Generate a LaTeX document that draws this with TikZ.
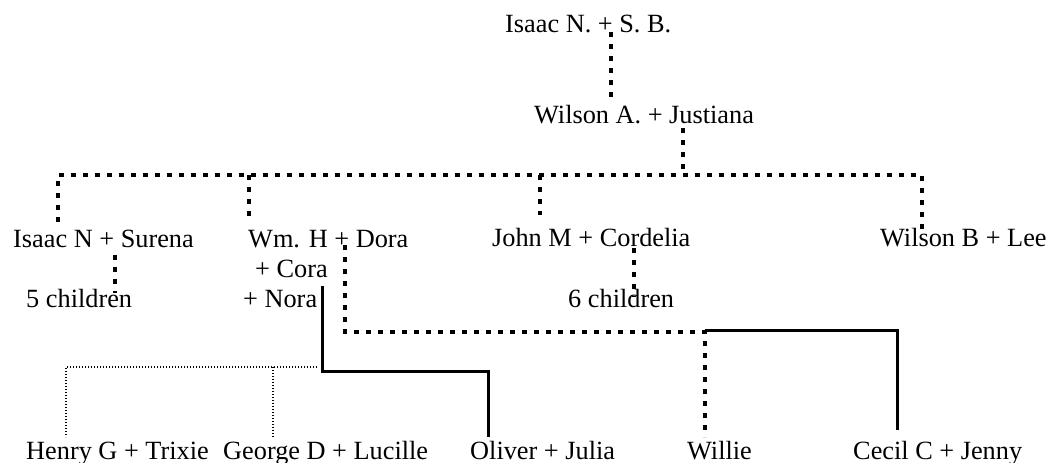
\documentclass[tikz,border=0pt]{standalone}
\usepackage{fontspec}
\setmainfont{Liberation Serif}
\begin{document}
\begin{tikzpicture}[x=1pt,y=-1pt,
        kin/.style={line width=4.6pt, dash pattern=on 4.6pt off 7.4pt},
        wed/.style={line width=3pt},
        faint/.style={line width=1.4pt, dash pattern=on 1.4pt off 1.6pt},
        who/.style={anchor=base west, inner sep=0pt, font=\fontsize{26.3}{30}\selectfont}]
        \useasboundingbox (0,0) rectangle (1050,463);
        \node[who] (isaacsb) at (505,32) {Isaac N. + S. B.};
        \node[who] (wilsonj) at (534,123) {Wilson A. + Justiana};
        \node[who] (isaacs) at (13,247) {Isaac N + Surena};
        \node[who] (wmdora) at (248,247) {Wm. H + Dora};
        \node[who] (cora) at (255,277) {+ Cora};
        \node[who] (nora) at (243,307) {+ Nora};
        \node[who] (johnc) at (492,246) {John M + Cordelia};
        \node[who] (wilsonl) at (880,246) {Wilson B + Lee};
        \node[who] (fivech) at (26,307) {5 children};
        \node[who] (sixch) at (568,307) {6 children};
        \node[who] (henryt) at (26,459) {Henry G + Trixie};
        \node[who] (georgel) at (223,459) {George D + Lucille};
        \node[who] (oliverj) at (470,459) {Oliver + Julia};
        \node[who] (willie) at (687,459) {Willie};
        \node[who] (cecilj) at (853,459) {Cecil C + Jenny};
        % bus and drops
        \coordinate (busL) at (58,175);
        \coordinate (busR) at (922,175);
        \coordinate (busW) at (249,175);
        \coordinate (busJ) at (540,175);
        \coordinate (jdrop) at (683,128);
        \coordinate (wmdrop) at (345,245);
        \coordinate (wmturn) at (345,332);
        \coordinate (willietop) at (705,332);
        \coordinate (noratop) at (322,286);
        \coordinate (noraturn) at (322,371);
        \coordinate (olivertop) at (488,371);
        \coordinate (ceciltop) at (897,330);
        \coordinate (henrytop) at (66,367);
        \coordinate (georgetop) at (273,367);
        \coordinate (noraend) at (317,367);
        \draw[kin] (isaacsb.base -| 611,0) -- (611,97);
        \draw[kin] (jdrop) -- (jdrop |- busL);
        \draw[kin] (58,222) -- (busL) -- (busR) -- (922,235);
        \draw[kin] (busW) -- (249,222);
        \draw[kin] (busJ) -- (540,215);
        \draw[kin] (115,255) -- (115,293);
        \draw[kin] (634,248) -- (634,297);
        \draw[kin] (wmdrop) -- (wmturn) -- (willietop) -- (705,437);
        \draw[wed] (noratop) -- (noraturn) -- (olivertop) -- (488,437);
        \draw[wed] (willietop |- ceciltop) -- (ceciltop) -- (897,430);
        \draw[faint] (noraend) -- (henrytop) -- (66,437);
        \draw[faint] (georgetop) -- (273,437);
\end{tikzpicture}
\end{document}
